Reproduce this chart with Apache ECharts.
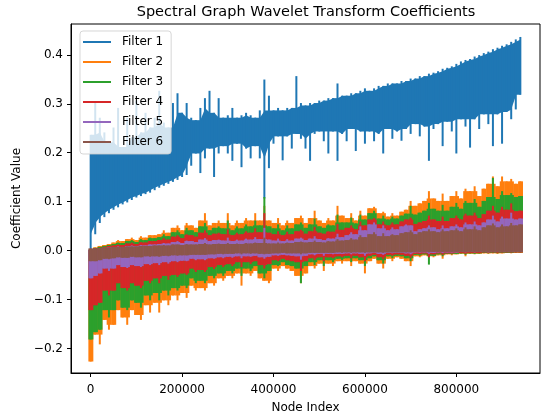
<!DOCTYPE html>
<html>
<head>
<meta charset="utf-8">
<script src="https://cdn.jsdelivr.net/npm/echarts@6/dist/echarts.min.js"></script>
<style>
html, body { margin: 0; padding: 0; background: #fff; }
#main { width: 541px; height: 419px; }
</style>
</head>
<body>
<div id="main"></div>
<script>
// one column every STEP nodes, low / high extent of each filter's trace
var STEP = 10000;

var f1Lo = [0.0,0.035,0.058,0.07,0.078,0.085,0.09,0.096,0.1,0.105,
  0.11,0.113,0.117,0.12,0.125,0.13,0.134,0.138,0.142,0.146,
  0.152,0.156,0.175,0.2,0.16,0.19,0.21,0.152,0.2,0.215,
  0.2,0.185,0.22,0.172,0.21,0.19,0.215,0.19,0.108,0.17,
  0.22,0.235,0.186,0.235,0.21,0.24,0.23,0.21,0.185,0.24,
  0.245,0.225,0.2,0.245,0.185,0.24,0.225,0.25,0.205,0.245,
  0.22,0.245,0.225,0.24,0.2,0.25,0.23,0.245,0.226,0.25,
  0.24,0.26,0.235,0.255,0.185,0.25,0.26,0.215,0.265,0.245,
  0.2,0.27,0.255,0.212,0.27,0.25,0.28,0.26,0.215,0.28,
  0.22,0.285,0.27,0.29,0.32];
var f1Hi = [0.235,0.30,0.27,0.24,0.22,0.25,0.29,0.21,0.27,0.23,
  0.305,0.24,0.28,0.25,0.27,0.325,0.26,0.25,0.30,0.32,
  0.28,0.30,0.27,0.265,0.29,0.31,0.325,0.28,0.31,0.27,
  0.275,0.29,0.27,0.275,0.28,0.275,0.27,0.285,0.348,0.315,
  0.285,0.29,0.285,0.29,0.29,0.355,0.3,0.295,0.3,0.3,
  0.305,0.305,0.31,0.31,0.34,0.315,0.315,0.32,0.32,0.325,
  0.33,0.325,0.33,0.335,0.335,0.34,0.34,0.34,0.345,0.345,
  0.35,0.35,0.355,0.355,0.36,0.362,0.365,0.37,0.372,0.375,
  0.38,0.385,0.388,0.39,0.395,0.398,0.402,0.405,0.41,0.413,
  0.417,0.42,0.425,0.43,0.435];

var f2Lo = [-0.225,-0.17,-0.19,-0.14,-0.16,-0.15,-0.12,-0.135,-0.15,-0.12,
  -0.13,-0.14,-0.11,-0.125,-0.105,-0.125,-0.1,-0.11,-0.09,-0.1,
  -0.085,-0.095,-0.07,-0.08,-0.075,-0.08,-0.065,-0.07,-0.055,-0.06,
  -0.05,-0.055,-0.045,-0.07,-0.045,-0.05,-0.04,-0.055,-0.06,-0.065,
  -0.035,-0.04,-0.03,-0.035,-0.04,-0.05,-0.065,-0.045,-0.03,-0.035,
  -0.025,-0.04,-0.025,-0.03,-0.02,-0.025,-0.02,-0.03,-0.02,-0.025,
  -0.045,-0.02,-0.015,-0.025,-0.035,-0.015,-0.02,-0.012,-0.015,-0.02,
  -0.03,-0.01,-0.012,-0.008,-0.01,-0.012,-0.008,-0.015,-0.006,-0.008,
  -0.006,-0.005,-0.01,-0.005,-0.006,-0.005,-0.004,-0.005,-0.004,-0.005,
  -0.004,-0.003,-0.004,-0.003,-0.003];
var f2Hi = [0.0,0.005,0.008,0.01,0.012,0.015,0.02,0.018,0.022,0.025,
  0.02,0.028,0.025,0.03,0.03,0.032,0.04,0.035,0.045,0.05,
  0.04,0.055,0.05,0.045,0.06,0.075,0.05,0.055,0.06,0.055,
  0.075,0.05,0.06,0.055,0.065,0.06,0.075,0.06,0.09,0.06,
  0.055,0.065,0.05,0.06,0.055,0.065,0.07,0.055,0.065,0.08,
  0.06,0.055,0.065,0.06,0.09,0.07,0.065,0.075,0.06,0.08,
  0.07,0.085,0.088,0.075,0.078,0.068,0.075,0.07,0.078,0.082,
  0.1,0.09,0.095,0.1,0.12,0.105,0.1,0.115,0.1,0.11,
  0.12,0.105,0.125,0.12,0.13,0.11,0.125,0.135,0.15,0.13,
  0.15,0.14,0.145,0.135,0.14];

var f3Lo = [-0.18,-0.165,-0.16,-0.12,-0.135,-0.12,-0.1,-0.115,-0.12,-0.1,
  -0.105,-0.115,-0.09,-0.1,-0.085,-0.1,-0.08,-0.09,-0.075,-0.08,
  -0.07,-0.075,-0.055,-0.065,-0.06,-0.065,-0.05,-0.055,-0.045,-0.05,
  -0.04,-0.045,-0.035,-0.05,-0.035,-0.04,-0.03,-0.045,-0.055,-0.04,
  -0.028,-0.03,-0.022,-0.028,-0.03,-0.035,-0.065,-0.03,-0.022,-0.028,
  -0.018,-0.03,-0.018,-0.022,-0.015,-0.018,-0.014,-0.022,-0.014,-0.018,
  -0.03,-0.014,-0.01,-0.018,-0.025,-0.01,-0.014,-0.009,-0.01,-0.014,
  -0.02,-0.007,-0.009,-0.006,-0.027,-0.009,-0.006,-0.01,-0.005,-0.006,
  -0.005,-0.004,-0.007,-0.004,-0.005,-0.004,-0.003,-0.004,-0.003,-0.004,
  -0.003,-0.003,-0.003,-0.002,-0.002];
var f3Hi = [0.0,0.004,0.006,0.008,0.01,0.012,0.015,0.014,0.018,0.02,
  0.016,0.022,0.02,0.025,0.024,0.026,0.032,0.028,0.036,0.04,
  0.032,0.045,0.04,0.036,0.048,0.055,0.04,0.045,0.048,0.044,
  0.06,0.04,0.048,0.044,0.052,0.048,0.06,0.05,0.108,0.048,
  0.044,0.052,0.04,0.05,0.044,0.052,0.056,0.045,0.052,0.064,
  0.048,0.045,0.052,0.05,0.072,0.056,0.056,0.066,0.054,0.072,
  0.062,0.075,0.08,0.064,0.07,0.062,0.068,0.064,0.07,0.074,
  0.09,0.072,0.076,0.08,0.096,0.084,0.08,0.092,0.08,0.088,
  0.096,0.084,0.1,0.096,0.104,0.088,0.1,0.108,0.147,0.104,
  0.12,0.112,0.116,0.108,0.11];

var f4Lo = [-0.12,-0.11,-0.105,-0.08,-0.09,-0.08,-0.065,-0.075,-0.08,-0.065,
  -0.07,-0.075,-0.06,-0.065,-0.055,-0.065,-0.05,-0.058,-0.048,-0.052,
  -0.045,-0.048,-0.035,-0.042,-0.038,-0.042,-0.032,-0.036,-0.028,-0.032,
  -0.026,-0.03,-0.022,-0.032,-0.022,-0.026,-0.02,-0.028,-0.035,-0.026,
  -0.018,-0.02,-0.015,-0.018,-0.02,-0.022,-0.04,-0.02,-0.014,-0.018,
  -0.012,-0.02,-0.012,-0.014,-0.01,-0.012,-0.009,-0.014,-0.009,-0.012,
  -0.02,-0.009,-0.007,-0.012,-0.016,-0.007,-0.009,-0.006,-0.007,-0.009,
  -0.013,-0.005,-0.006,-0.004,-0.012,-0.006,-0.004,-0.007,-0.004,-0.004,
  -0.003,-0.003,-0.005,-0.003,-0.003,-0.003,-0.002,-0.003,-0.002,-0.003,
  -0.002,-0.002,-0.002,-0.002,-0.002];
var f4Hi = [0.0,0.003,0.004,0.006,0.008,0.009,0.011,0.01,0.013,0.015,
  0.012,0.016,0.015,0.018,0.018,0.02,0.024,0.021,0.027,0.03,
  0.024,0.032,0.03,0.027,0.035,0.04,0.03,0.033,0.035,0.032,
  0.042,0.03,0.035,0.032,0.038,0.035,0.044,0.036,0.075,0.035,
  0.032,0.038,0.03,0.037,0.032,0.038,0.041,0.033,0.038,0.047,
  0.035,0.033,0.038,0.037,0.053,0.041,0.045,0.05,0.042,0.058,
  0.05,0.062,0.065,0.052,0.058,0.05,0.056,0.052,0.058,0.062,
  0.066,0.053,0.056,0.059,0.07,0.062,0.059,0.068,0.059,0.065,
  0.07,0.062,0.074,0.07,0.076,0.065,0.073,0.08,0.09,0.076,
  0.088,0.082,0.095,0.079,0.08];

var f5Lo = [-0.055,-0.05,-0.045,-0.035,-0.04,-0.035,-0.028,-0.032,-0.034,-0.028,
  -0.03,-0.032,-0.026,-0.028,-0.024,-0.028,-0.022,-0.025,-0.02,-0.022,
  -0.019,-0.02,-0.015,-0.018,-0.016,-0.018,-0.014,-0.015,-0.012,-0.014,
  -0.011,-0.013,-0.01,-0.014,-0.01,-0.011,-0.009,-0.012,-0.015,-0.011,
  -0.008,-0.009,-0.007,-0.008,-0.009,-0.01,-0.017,-0.009,-0.006,-0.008,
  -0.005,-0.009,-0.005,-0.006,-0.005,-0.005,-0.004,-0.006,-0.004,-0.005,
  -0.009,-0.004,-0.003,-0.005,-0.007,-0.003,-0.004,-0.003,-0.003,-0.004,
  -0.006,-0.002,-0.003,-0.002,-0.005,-0.003,-0.002,-0.003,-0.002,-0.002,
  -0.002,-0.001,-0.002,-0.001,-0.002,-0.001,-0.001,-0.002,-0.001,-0.001,
  -0.001,-0.001,-0.001,-0.001,-0.001];
var f5Hi = [0.0,0.002,0.003,0.004,0.005,0.006,0.007,0.006,0.008,0.009,
  0.008,0.01,0.009,0.011,0.011,0.012,0.014,0.013,0.016,0.018,
  0.014,0.019,0.018,0.016,0.021,0.024,0.018,0.02,0.021,0.019,
  0.025,0.018,0.021,0.019,0.023,0.021,0.026,0.022,0.045,0.021,
  0.019,0.023,0.018,0.022,0.019,0.023,0.025,0.02,0.023,0.028,
  0.022,0.02,0.024,0.023,0.033,0.026,0.03,0.036,0.032,0.048,
  0.04,0.052,0.056,0.044,0.05,0.04,0.046,0.042,0.048,0.052,
  0.05,0.038,0.042,0.044,0.05,0.046,0.042,0.05,0.044,0.048,
  0.052,0.046,0.056,0.052,0.058,0.05,0.056,0.062,0.07,0.058,
  0.068,0.064,0.076,0.062,0.064];

var f6Lo = [-0.02,-0.02,-0.018,-0.015,-0.016,-0.014,-0.012,-0.013,-0.013,-0.011,
  -0.012,-0.012,-0.01,-0.011,-0.01,-0.011,-0.009,-0.01,-0.008,-0.009,
  -0.008,-0.008,-0.007,-0.007,-0.007,-0.007,-0.006,-0.006,-0.005,-0.006,
  -0.005,-0.005,-0.004,-0.006,-0.004,-0.005,-0.004,-0.005,-0.006,-0.005,
  -0.004,-0.004,-0.003,-0.004,-0.004,-0.004,-0.006,-0.004,-0.003,-0.003,
  -0.003,-0.003,-0.003,-0.003,-0.002,-0.003,-0.002,-0.003,-0.002,-0.002,
  -0.003,-0.002,-0.002,-0.002,-0.003,-0.002,-0.002,-0.002,-0.002,-0.002,
  -0.002,-0.001,-0.002,-0.001,-0.002,-0.001,-0.001,-0.001,-0.001,-0.001,
  -0.001,-0.001,-0.001,-0.001,-0.001,-0.001,-0.001,-0.001,-0.001,-0.001,
  -0.001,-0.001,-0.001,-0.001,-0.001];
var f6Hi = [0.003,0.003,0.004,0.005,0.005,0.006,0.006,0.006,0.007,0.007,
  0.007,0.008,0.008,0.008,0.009,0.009,0.01,0.009,0.011,0.011,
  0.01,0.012,0.011,0.011,0.012,0.014,0.011,0.012,0.013,0.012,
  0.014,0.012,0.013,0.012,0.014,0.013,0.015,0.014,0.025,0.013,
  0.013,0.015,0.013,0.015,0.014,0.016,0.017,0.015,0.016,0.019,
  0.016,0.015,0.018,0.017,0.022,0.019,0.02,0.024,0.021,0.03,
  0.026,0.032,0.036,0.028,0.034,0.028,0.032,0.03,0.034,0.036,
  0.04,0.032,0.036,0.038,0.042,0.038,0.036,0.042,0.038,0.04,
  0.044,0.038,0.046,0.042,0.048,0.04,0.046,0.05,0.054,0.046,
  0.052,0.048,0.055,0.05,0.052];

var filterNames = ['Filter 1', 'Filter 2', 'Filter 3', 'Filter 4', 'Filter 5', 'Filter 6'];
var filterColors = ['#1f77b4', '#ff7f0e', '#2ca02c', '#d62728', '#9467bd', '#8c564b'];
var xTicks = [0, 200000, 400000, 600000, 800000];
var yTicks = [-0.2, -0.1, 0.0, 0.1, 0.2, 0.3, 0.4];

var lows = [f1Lo, f2Lo, f3Lo, f4Lo, f5Lo, f6Lo];
var highs = [f1Hi, f2Hi, f3Hi, f4Hi, f5Hi, f6Hi];

function columns(lo, hi) {
  var rows = [];
  for (var i = 0; i < lo.length; i++) {
    rows.push([i * STEP, lo[i], hi[i]]);
  }
  return rows;
}

// body of a column = the part not sticking out beyond its neighbours;
// with `comb` the body is what all three neighbouring columns share
function bodies(lo, hi, comb) {
  var n = lo.length, bLo = [], bHi = [];
  for (var i = 0; i < n; i++) {
    var p = Math.max(i - 1, 0), q = Math.min(i + 1, n - 1);
    var l = comb ? Math.max(lo[p], lo[i], lo[q]) : Math.max(lo[i], Math.min(lo[p], lo[q]));
    var h = comb ? Math.min(hi[p], hi[i], hi[q]) : Math.min(hi[i], Math.max(hi[p], hi[q]));
    bLo.push(l);
    bHi.push(Math.max(h, l));
  }
  return { lo: bLo, hi: bHi };
}

// smooth: body drawn as a band to the next column (filter 1), else as a block
function makeColumn(lo, hi, smooth) {
  var body = bodies(lo, hi, smooth);
  return function (params, api) {
    var i = params.dataIndex;
    var x = api.value(0);
    var color = api.visual('color');
    var kids = [];
    if (smooth) {
      if (i < lo.length - 1) {
        var p1 = api.coord([x, body.hi[i]]);
        var p2 = api.coord([x + STEP, body.hi[i + 1]]);
        var p3 = api.coord([x + STEP, body.lo[i + 1]]);
        var p4 = api.coord([x, body.lo[i]]);
        kids.push({
          type: 'polygon',
          shape: { points: [[p1[0], p1[1] - 0.75], [p2[0] + 0.4, p2[1] - 0.75], [p3[0] + 0.4, p3[1] + 0.75], [p4[0], p4[1] + 0.75]] },
          style: { fill: color }
        });
      }
    } else if (body.hi[i] > body.lo[i]) {
      var a = api.coord([x - STEP / 2, body.hi[i]]);
      var b = api.coord([x + STEP / 2, body.lo[i]]);
      kids.push({
        type: 'rect',
        shape: { x: a[0], y: a[1] - 0.75, width: b[0] - a[0] + 0.4, height: b[1] - a[1] + 1.5 },
        style: { fill: color }
      });
    }
    var c = api.coord([x, hi[i]]);
    var d = api.coord([x, lo[i]]);
    kids.push({
      type: 'rect',
      shape: { x: c[0] - 1, y: c[1] - 0.75, width: 2, height: d[1] - c[1] + 1.5 },
      style: { fill: color }
    });
    return { type: 'group', children: kids };
  };
}

var font = 'DejaVu Sans';
var series = [];
for (var k = 0; k < filterNames.length; k++) {
  series.push({
    name: filterNames[k],
    type: 'custom',
    renderItem: makeColumn(lows[k], highs[k], k === 0),
    itemStyle: { color: filterColors[k] },
    encode: { x: 0, y: [1, 2] },
    data: columns(lows[k], highs[k])
  });
}

var chart = echarts.init(document.getElementById('main'));
var option = {
  animation: false,
  backgroundColor: '#fff',
  title: {
    text: 'Spectral Graph Wavelet Transform Coefficients',
    left: 306,
    textAlign: 'center',
    top: 5,
    padding: 0,
    textStyle: { fontFamily: font, fontSize: 14.5, fontWeight: 'normal', color: '#000' }
  },
  legend: {
    data: filterNames,
    orient: 'vertical',
    left: 80,
    top: 31,
    icon: 'rect',
    itemWidth: 28,
    itemHeight: 2,
    itemGap: 8,
    padding: [5, 8, 6, 3],
    backgroundColor: 'rgba(255,255,255,0.8)',
    borderColor: 'rgba(204,204,204,0.8)',
    borderWidth: 1,
    borderRadius: 3,
    selectedMode: false,
    textStyle: { fontFamily: font, fontSize: 12, color: '#000', padding: [0, 0, 0, 6] }
  },
  grid: {
    left: 71,
    right: 1,
    top: 24,
    bottom: 46,
    show: true,
    borderColor: '#000',
    borderWidth: 1,
    backgroundColor: 'transparent'
  },
  xAxis: {
    type: 'value',
    min: -43000,
    max: 983000,
    name: 'Node Index',
    nameLocation: 'middle',
    nameGap: 29,
    nameTextStyle: { fontFamily: font, fontSize: 12, color: '#000' },
    axisLine: { onZero: false, lineStyle: { color: '#000', width: 1 } },
    axisTick: { show: true, length: 4, lineStyle: { color: '#000' }, customValues: xTicks },
    axisLabel: {
      fontFamily: font, fontSize: 12, color: '#000', margin: 11,
      customValues: xTicks,
      formatter: function (v) { return String(Math.round(v)); }
    },
    splitLine: { show: false }
  },
  yAxis: {
    type: 'value',
    min: -0.25,
    max: 0.463,
    name: 'Coefficient Value',
    nameLocation: 'middle',
    nameRotate: 90,
    nameGap: 44,
    nameTextStyle: { fontFamily: font, fontSize: 12, color: '#000' },
    axisLine: { show: true, onZero: false, lineStyle: { color: '#000', width: 1 } },
    axisTick: { show: true, length: 4, lineStyle: { color: '#000' }, customValues: yTicks },
    axisLabel: {
      fontFamily: font, fontSize: 12, color: '#000', margin: 8,
      customValues: yTicks,
      formatter: function (v) { return (v < -1e-9 ? '\u2212' : '') + Math.abs(v).toFixed(1); }
    },
    splitLine: { show: false }
  },
  series: series
};
chart.setOption(option);
window.addEventListener('resize', function () { chart.resize(); });
</script>
</body>
</html>
